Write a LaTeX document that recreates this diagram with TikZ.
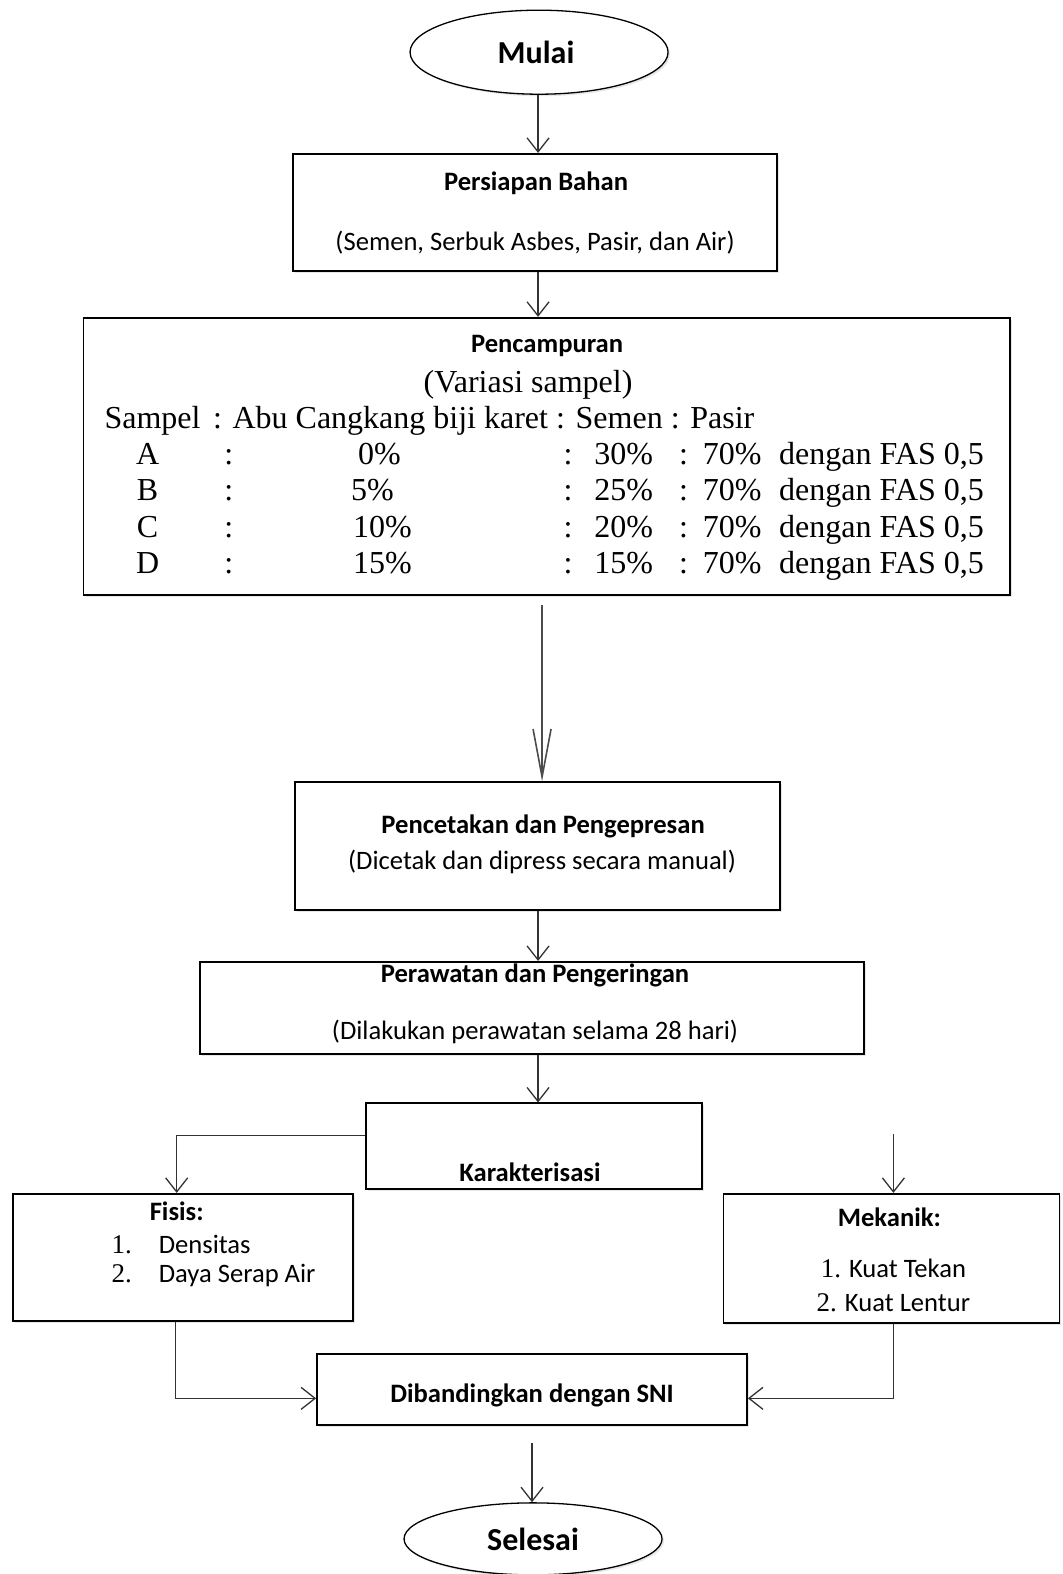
\documentclass[tikz,border=0pt]{standalone}
\usepackage{fontspec}
\setmainfont{Carlito}
\newfontfamily\tnr{Liberation Serif}
\usetikzlibrary{shapes.geometric,arrows.meta,shadows}
\begin{document}
\begin{tikzpicture}[x=1.0038pt,y=-1.0038pt,
  box/.style={draw=black,line width=1.8pt,fill=white,inner sep=0pt,
    drop shadow={shadow xshift=2pt,shadow yshift=-2pt,fill=black!18}},
  oval/.style={ellipse,draw=black,line width=1.3pt,fill=white,inner sep=0pt,
    drop shadow={shadow xshift=2pt,shadow yshift=-2pt,fill=black!18}},
  sfb/.style={font=\fontsize{26.6}{30}\selectfont\bfseries,inner sep=0pt},
  sfn/.style={font=\fontsize{26.6}{30}\selectfont,inner sep=0pt},
  big/.style={font=\fontsize{32}{36}\selectfont\bfseries,inner sep=0pt},
  tm/.style={font=\fontsize{32}{36}\selectfont\tnr,inner sep=0pt,anchor=base west},
  tmc/.style={font=\fontsize{32}{36}\selectfont\tnr,inner sep=0pt,anchor=base},
  tms/.style={font=\fontsize{27}{30}\selectfont\tnr,inner sep=0pt,anchor=base west},
  conn/.style={draw=black!80,line width=1.3pt,-{Straight Barb[length=14pt,width=22pt,line width=1.3pt]}},
  connlong/.style={draw=black!70,line width=1.3pt,-{Straight Barb[length=48pt,width=18pt,line width=1.6pt]}},
  plain/.style={draw=black!80,line width=1.3pt}
]
\useasboundingbox (0,0) rectangle (1058,1568);
\fill[white] (0,0) rectangle (1058,1568);

% nodes
\node[oval,minimum width=258pt,minimum height=84pt] (mulai) at (537,52) {};
\node[big,anchor=base] (tmulai) at (534,63) {Mulai};

\node[box,minimum width=484pt,minimum height=117pt] (b1) at (533,211.5) {};
\node[sfb,anchor=base] (t1a) at (534,190) {Persiapan Bahan};
\node[sfn,anchor=base] (t1b) at (533,250) {(Semen, Serbuk Asbes, Pasir, dan Air)};

\node[box,minimum width=926pt,minimum height=277pt] (b2) at (544.5,454.5) {};
\node[sfb,anchor=base] (t2a) at (545,351) {Pencampuran};
\node[tmc] (t2b) at (526,390.5) {(Variasi sampel)};
\node[tm] (h1) at (104,426.5) {Sampel};
\node[tm] (h2) at (212,426.5) {: Abu Cangkang biji karet : Semen : Pasir};
% rows
\foreach \L/\P/\px/\S [count=\i from 0] in {A/0\%/378/30\%, B/5\%/371/25\%, C/10\%/381/20\%, D/15\%/381/15\%}{
  \pgfmathsetmacro{\yy}{462.5+36.3*\i}
  \node[tmc] (r\i a) at (147,\yy) {\L};
  \node[tmc] (r\i b) at (228,\yy) {:};
  \node[tmc] (r\i c) at (\px,\yy) {\P};
  \node[tmc] (r\i d) at (566,\yy) {:};
  \node[tm]  (r\i e) at (592,\yy) {\S};
  \node[tmc] (r\i f) at (681,\yy) {:};
  \node[tm]  (r\i g) at (700,\yy) {70\%};
  \node[tm]  (r\i h) at (776,\yy) {dengan FAS 0,5};
}

\node[box,minimum width=485pt,minimum height=128pt] (b3) at (535.5,843) {};
\node[sfb,anchor=base] (t3a) at (541,830) {Pencetakan dan Pengepresan};
\node[sfn,anchor=base] (t3b) at (540,866) {(Dicetak dan dipress secara manual)};

\node[box,minimum width=664pt,minimum height=92pt] (b4) at (530,1004) {};
\node[sfb,anchor=base] (t4a) at (533,979) {Perawatan dan Pengeringan};
\node[sfn,anchor=base] (t4b) at (533,1036) {(Dilakukan perawatan selama 28 hari)};

\node[box,minimum width=336pt,minimum height=86pt] (b5) at (532,1142) {};
\node[sfb,anchor=base] (t5) at (528,1177) {Karakterisasi};

\node[box,minimum width=340pt,minimum height=127pt] (fisis) at (182,1252.5) {};
\node[sfb,anchor=base] (tf0) at (176,1216) {Fisis:};
\node[tms] (tf1n) at (111,1249) {1.};
\node[sfn,anchor=base west] (tf1) at (158,1249) {Densitas};
\node[tms] (tf2n) at (111,1278) {2.};
\node[sfn,anchor=base west] (tf2) at (158,1278) {Daya Serap Air};

\node[box,minimum width=336pt,minimum height=129pt] (mek) at (888,1253.5) {};
\node[sfb,anchor=base] (tm0) at (886,1222) {Mekanik:};
\node[sfn,anchor=base] (tm1) at (890,1273) {{\tnr\fontsize{27}{30}\selectfont 1.} Kuat Tekan};
\node[sfn,anchor=base] (tm2) at (890,1306) {{\tnr\fontsize{27}{30}\selectfont 2.} Kuat Lentur};

\node[box,minimum width=430pt,minimum height=71pt] (sni) at (530,1384.5) {};
\node[sfb,anchor=base] (tsni) at (530,1397) {Dibandingkan dengan SNI};

\node[oval,minimum width=258pt,minimum height=72pt] (selesai) at (531,1533) {};
\node[big,anchor=base] (tsel) at (531,1545) {Selesai};

% helper coordinates
\coordinate (c2s) at (540,603);
\coordinate (kleft) at (176,1131);
\coordinate (mtop) at (890,1130);
\coordinate (fdown) at (175,1393);
\coordinate (mdown) at (890,1393);
\coordinate (snis) at (530,1437);

% connectors
\draw[conn] (mulai.south -| 536,0) -- (b1.north -| 536,0);
\draw[conn] (b1.south -| 536,0) -- (b2.north -| 536,0);
\draw[connlong] (c2s) -- (b3.north -| c2s);
\draw[conn] (b3.south -| 536,0) -- (b4.north -| 536,0);
\draw[conn] (b4.south -| 536,0) -- (b5.north -| 536,0);
\draw[conn] (b5.west |- kleft) -- (kleft) -- (fisis.north -| kleft);
\draw[conn] (mtop) -- (mek.north -| mtop);
\draw[conn] (fisis.south -| fdown) -- (fdown) -- (sni.west |- fdown);
\draw[conn] (mek.south -| mdown) -- (mdown) -- (sni.east |- mdown);
\draw[conn] (snis) -- (selesai.north -| snis);
\end{tikzpicture}
\end{document}
